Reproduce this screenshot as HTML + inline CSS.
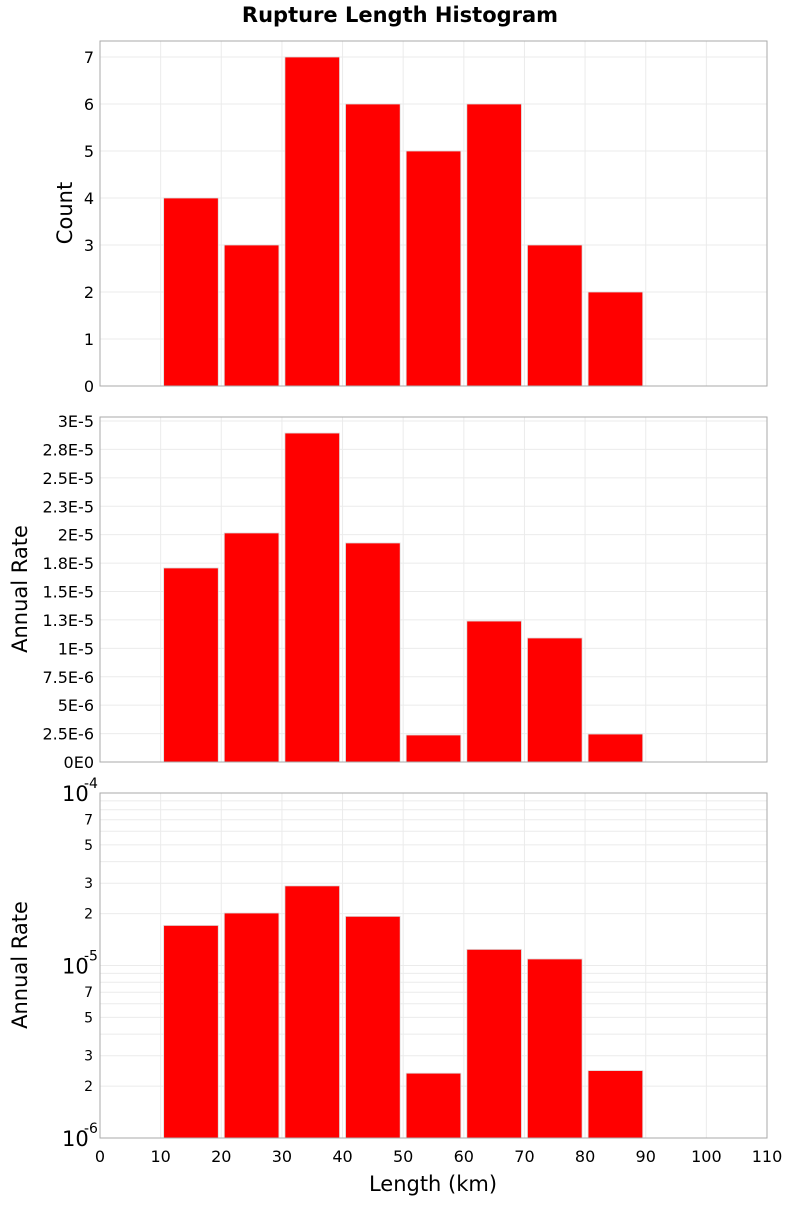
<!DOCTYPE html>
<html><head><meta charset="utf-8"><style>
body{margin:0;background:#fff;width:800px;height:1200px;overflow:hidden}
svg{font-family:"DejaVu Sans","Liberation Sans",sans-serif}
</style></head><body>
<svg id="c" width="800" height="1200" xmlns="http://www.w3.org/2000/svg">
<text x="400" y="22" text-anchor="middle" font-size="21" font-weight="bold">Rupture Length Histogram</text>
<text x="433" y="1191" text-anchor="middle" font-size="21">Length (km)</text>
</svg>
<script>
const binStarts=[10,20,30,40,50,60,70,80];
const counts=[4,3,7,6,5,6,3,2];
const rates=[1.707e-5,2.015e-5,2.894e-5,1.927e-5,2.375e-6,1.24e-5,1.091e-5,2.46e-6];
const binWidth=10;
const xTicks=[0,10,20,30,40,50,60,70,80,90,100,110];
const countTicks=[0,1,2,3,4,5,6,7];
const rateTicks=[0,2.5e-6,5e-6,7.5e-6,1e-5,1.25e-5,1.5e-5,1.75e-5,2e-5,2.25e-5,2.5e-5,2.75e-5,3e-5];
const rateTickLabels=["0E0","2.5E-6","5E-6","7.5E-6","1E-5","1.3E-5","1.5E-5","1.8E-5","2E-5","2.3E-5","2.5E-5","2.8E-5","3E-5"];
const logMinorLabels=[2,3,5,7];

const svg=document.getElementById('c');const NS='http://www.w3.org/2000/svg';
function el(t,a,p){const e=document.createElementNS(NS,t);for(const k in a)e.setAttribute(k,a[k]);(p||svg).appendChild(e);return e;}
const L=100,R=767;
const X=v=>L+(v-0)/(110-0)*(R-L);
function panel(top,bot,yf,name){
  const g=el('g',{});
  
  
  return g;
}
function drawX(g,top,bot){
  xTicks.forEach(t=>{const l=el('line',{x1:X(t),x2:X(t),y1:top,y2:bot,stroke:'#ebebeb','stroke-width':1},g);
  });
}
function bars(g,vals,yf,bot){
  vals.forEach((v,i)=>{const x0=X(binStarts[i])+3,x1=X(binStarts[i]+binWidth)-3;const y=yf(v);
  const r=el('rect',{x:x0,y:y,width:x1-x0,height:bot-y,fill:'#ff0000',stroke:'#dddddd','stroke-width':0.8},g);
  });
}
function frame(g,top,bot){const r=el('rect',{x:L,y:top,width:R-L,height:bot-top,fill:'none',stroke:'#aaaaaa','stroke-width':1},g);
}
function ylab(g,text,cy,x){const t=el('text',{x:x,y:cy,'text-anchor':'middle','font-size':21,transform:`rotate(-90 ${x} ${cy})`},g);t.textContent=text;
}

// Panel 1
{const top=41,bot=386,max=345/47;const Y=v=>bot-v/max*(bot-top);
const g=panel(top,bot,Y,'count-panel');drawX(g,top,bot);
countTicks.forEach(t=>{const l=el('line',{x1:L,x2:R,y1:Y(t),y2:Y(t),stroke:'#ebebeb'},g);

const tx=el('text',{x:94,y:Y(t)+6,'text-anchor':'end','font-size':16},g);tx.textContent=t;
});
bars(g,counts,Y,bot);frame(g,top,bot);ylab(g,'Count',213,72);}

// Panel 2
{const top=417,bot=762,max=3e-5*345/341;const Y=v=>bot-v/max*(bot-top);
const g=panel(top,bot,Y,'rate-linear-panel');drawX(g,top,bot);
rateTicks.forEach((t,i)=>{const l=el('line',{x1:L,x2:R,y1:Y(t),y2:Y(t),stroke:'#ebebeb'},g);

const tx=el('text',{x:94,y:Y(t)+6,'text-anchor':'end','font-size':16},g);tx.textContent=rateTickLabels[i];
});
bars(g,rates,Y,bot);frame(g,top,bot);ylab(g,'Annual Rate',589,27);}

// Panel 3 log
{const top=793,bot=1138,lo=-6,hi=-4;const Y=v=>bot-(Math.log10(v)-lo)/(hi-lo)*(bot-top);
const g=panel(top,bot,Y,'rate-log-panel');drawX(g,top,bot);
for(let e=lo;e<hi;e++)for(let m=2;m<=9;m++){const v=m*Math.pow(10,e);
const l=el('line',{x1:L,x2:R,y1:Y(v),y2:Y(v),stroke:'#ebebeb'},g);
if(logMinorLabels.includes(m)){const tx=el('text',{x:93,y:Y(v)+5,'text-anchor':'end','font-size':14},g);tx.textContent=m;
}}
for(let e=lo;e<=hi;e++){const y=Y(Math.pow(10,e));
const l=el('line',{x1:L,x2:R,y1:y,y2:y,stroke:'#ebebeb'},g);
const tx=el('text',{x:62,y:y+8,'font-size':21},g);tx.textContent='10';

const sp=el('text',{x:84,y:y-5,'font-size':14},g);sp.textContent=String(e);
}
bars(g,rates,Y,bot);frame(g,top,bot);ylab(g,'Annual Rate',965,27);
xTicks.forEach(t=>{const tx=el('text',{x:X(t),y:1162,'text-anchor':'middle','font-size':16},g);tx.textContent=t;
});}
</script>
</body></html>
